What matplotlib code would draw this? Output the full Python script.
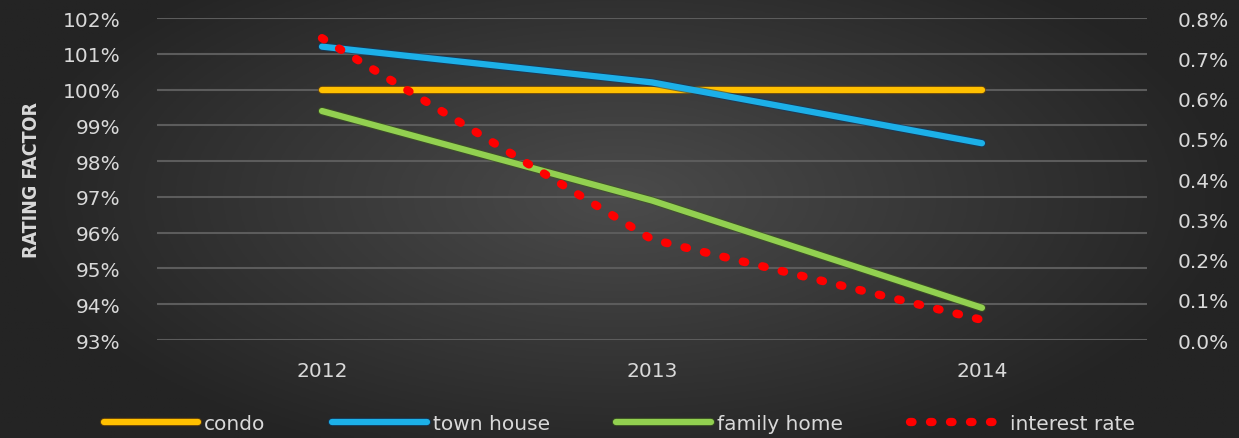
import numpy as np
import matplotlib.pyplot as plt
import matplotlib.patheffects as pe
from matplotlib.ticker import FuncFormatter

years = ['2012', '2013', '2014']
condo = [100.0, 100.0, 100.0]
town_house = [101.2, 100.2, 98.5]
family_home = [99.4, 96.9, 93.9]
interest_rate = [0.75, 0.25, 0.05]

txt = '#d9d9d9'
grid = '#5c5c5c'

fig = plt.figure(figsize=(12.39, 4.39), dpi=100)

# dark vignette background
bg = fig.add_axes([0, 0, 1, 1], zorder=-10)
gx, gy = np.meshgrid(np.linspace(-1, 1, 400), np.linspace(-1, 1, 150))
d = np.clip(np.sqrt(gx ** 2 + ((gy + 0.1) / 1.3) ** 2), 0, 1)
shade = (0x4b * (1 - d) + 0x24 * d) / 255.0
bg.imshow(np.dstack([shade, shade, shade]), aspect='auto', extent=[0, 1, 0, 1])
bg.axis('off')

ax = fig.add_axes([0.1267, 0.2232, 0.799, 0.7335])
ax.set_facecolor('none')
x = np.arange(len(years))

def outline(c):
    return [pe.Stroke(linewidth=6.0, foreground=c, alpha=0.6), pe.Normal()]

ax.plot(x, condo, color='#ffc000', lw=4.5, solid_capstyle='round',
        path_effects=outline('#7a4a00'), label='condo', zorder=3)
ax.plot(x, town_house, color='#1cb0e8', lw=4.5, solid_capstyle='round',
        path_effects=outline('#0b3a66'), label='town house', zorder=3)
ax.plot(x, family_home, color='#92d050', lw=4.5, solid_capstyle='round',
        path_effects=outline('#3d5a1e'), label='family home', zorder=3)

ax.set_xlim(-0.5, 2.5)
ax.set_ylim(93, 102)
ax.set_yticks(np.arange(93, 103, 1))
ax.yaxis.set_major_formatter(FuncFormatter(lambda v, p: f'{v:.0f}%'))
ax.set_xticks(x)
ax.set_xticklabels(years)
ax.grid(axis='y', color=grid, lw=1.5)
ax.set_axisbelow(True)
ax.tick_params(length=0, colors=txt, labelsize=14.5)
ax.tick_params(axis='y', pad=26)
ax.tick_params(axis='x', pad=15)
for s in ax.spines.values():
    s.set_visible(False)
ax.set_ylabel('RATING FACTOR', color=txt, fontsize=14, fontweight='bold',
              fontstretch='condensed', labelpad=16)

ax2 = ax.twinx()
ax2.plot(x, interest_rate, color='#ff0000', lw=6, linestyle=(0, (0.3, 2.1)),
         dash_capstyle='round', label='interest rate', zorder=4)
ax2.set_ylim(0, 0.8)
ax2.set_yticks(np.arange(0, 0.81, 0.1))
ax2.yaxis.set_major_formatter(FuncFormatter(lambda v, p: f'{v:.1f}%'))
ax2.tick_params(length=0, colors=txt, labelsize=14.5, pad=22)
for s in ax2.spines.values():
    s.set_visible(False)

h1, l1 = ax.get_legend_handles_labels()
h2, l2 = ax2.get_legend_handles_labels()
leg = fig.legend(h1 + h2, l1 + l2, loc='center', bbox_to_anchor=(0.5, 0.034),
                 ncol=4, frameon=False, fontsize=14.5, handlelength=4.7,
                 handletextpad=0.3, columnspacing=3.3)
for t in leg.get_texts():
    t.set_color(txt)

fig.savefig('out.png', dpi=100)
